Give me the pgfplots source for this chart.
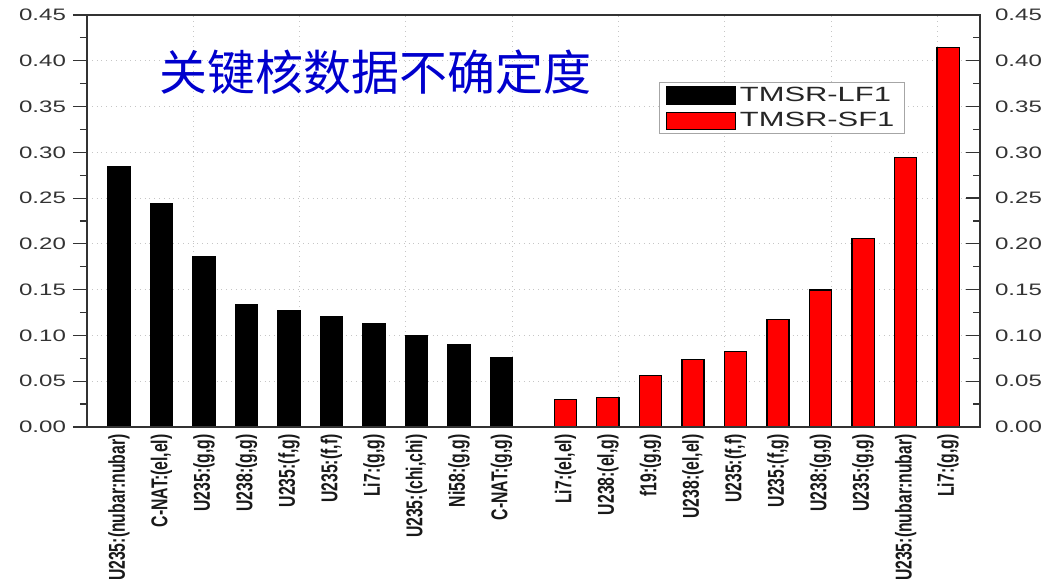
\documentclass[border=0pt]{standalone}
\usepackage{fontspec}
\setmainfont{Liberation Sans}[FakeStretch=1.5]
\newfontfamily\lab{Liberation Sans}
\newfontfamily\cjk{Noto Sans CJK SC}
\usepackage{graphicx}
\usepackage{pgfplots}
\pgfplotsset{compat=1.18}
\definecolor{ttl}{RGB}{0,0,205}
\newcommand\Lb[1]{\scalebox{1}[1.45]{\lab\bfseries\fontsize{7.9pt}{8pt}\selectfont #1}}
\pgfplotsset{/pgfplots/ybar legend/.style={/pgfplots/legend image code/.code={\draw[##1] (0pt,-4.3pt) rectangle (34.5pt,4.3pt);}}}
\pgfplotsset{myy/.style={
  ytick={0,0.05,...,0.451}, minor ytick={0.025,0.075,...,0.43},
  yticklabel={\scalebox{1.45}[1]{\lab\fontsize{8.3pt}{9pt}\selectfont\pgfmathprintnumber[fixed,fixed zerofill,precision=2,assume math mode=true]{\tick}}},
  yticklabel style={text=black!80},
  axis line style={black!80, line width=0.75pt},
  major tick length=7pt, minor tick length=3.5pt,
  every tick/.style={black!80, line width=0.6pt},
  width=446.5pt, height=206pt, scale only axis,
  xmin=-0.75, xmax=20.25, ymin=0, ymax=0.45,
}}
\begin{document}
\begin{tikzpicture}
\begin{axis}[name=main, myy,
  tick align=outside, ytick pos=left,
  ybar, bar shift=0pt, bar width=0.52,
  ymajorgrids, major grid style={dotted, gray!45, line width=0.5pt},
  xtick={0,1,2,3,4,5,6,7,8,9,10.5,11.5,12.5,13.5,14.5,15.5,16.5,17.5,18.5,19.5},
  xtick style={draw=none},
  xticklabels={\Lb{U235:(nubar:nubar)},\Lb{C-NAT:(el,el)},\Lb{U235:(g,g)},\Lb{U238:(g,g)},\Lb{U235:(f,g)},\Lb{U235:(f,f)},\Lb{Li7:(g,g)},\Lb{U235:(chi,chi)},\Lb{Ni58:(g,g)},\Lb{C-NAT:(g,g)},
    \Lb{Li7:(el,el)},\Lb{U238:(el,g)},\Lb{f19:(g,g)},\Lb{U238:(el,el)},\Lb{U235:(f,f)},\Lb{U235:(f,g)},\Lb{U238:(g,g)},\Lb{U235:(g,g)},\Lb{U235:(nubar:nubar)},\Lb{Li7:(g,g)}},
  xticklabel style={rotate=90, anchor=east, inner sep=1pt, text=black!90},
  xticklabel shift=-4.5pt,
  extra x ticks={1.75,4.25,6.75,9.25,11.75,14.25,16.75,19.25},
  extra x tick labels={},
  extra x tick style={grid=major, major grid style={dotted, gray!45, line width=0.5pt}, tick style={draw=none}},
  legend style={at={(rel axis cs:0.916,0.837)}, anchor=north east, draw=gray!70, line width=0.6pt,
    font=\fontsize{10.3pt}{11pt}\selectfont, text=black!85, inner xsep=3pt, inner ysep=0pt},
  legend cell align=left,
]
\addplot[fill=black, draw=black, line width=0.6pt] coordinates {
  (0,0.284) (1,0.2436) (2,0.186) (3,0.1336) (4,0.127) (5,0.1205) (6,0.1132) (7,0.0997) (8,0.0899) (9,0.0761)};
\addlegendentry{TMSR-LF1}
\addplot[fill=red, draw=black, line width=0.6pt] coordinates {
  (10.5,0.0302) (11.5,0.0324) (12.5,0.0565) (13.5,0.0739) (14.5,0.0827) (15.5,0.117) (16.5,0.1496) (17.5,0.2061) (18.5,0.2945) (19.5,0.4147)};
\addlegendentry{TMSR-SF1}
\node[text=ttl, font=\cjk\fontsize{24pt}{26pt}\selectfont] at (rel axis cs:0.3236,0.8617) {关键核数据不确定度};
\end{axis}
\begin{axis}[myy,
  tick align=inside, ytick pos=right,
  xtick=\empty,
  yticklabel pos=right,
  yticklabel shift=4pt,
]
\end{axis}
\pgfresetboundingbox
\path ([xshift=-43.5pt,yshift=-76pt]main.south west) rectangle ([xshift=34pt,yshift=7.5pt]main.north east);
\end{tikzpicture}
\end{document}
